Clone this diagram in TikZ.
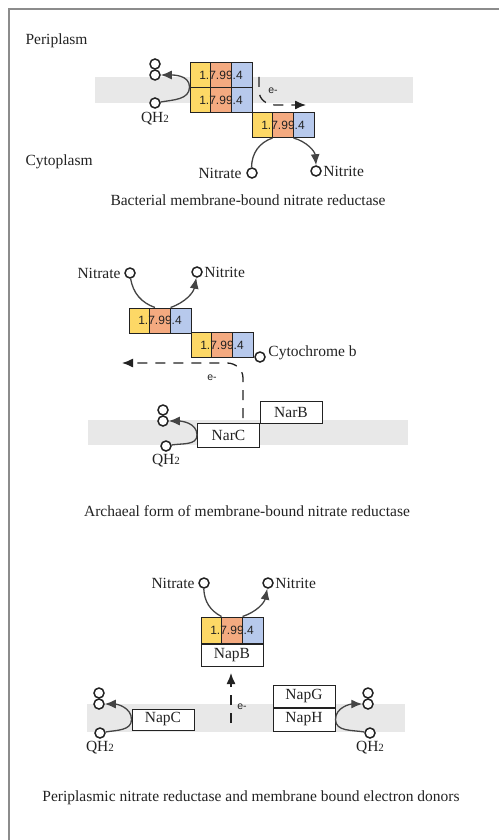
\documentclass[tikz,border=0pt]{standalone}
\usepackage{fontspec}
\setmainfont{Liberation Serif}
\newfontfamily\ecfamily{Liberation Sans}
\usetikzlibrary{calc,positioning,arrows.meta}
\definecolor{ink}{HTML}{222222}
\definecolor{curvegray}{HTML}{444444}
\definecolor{frameline}{HTML}{8C8C8C}
\definecolor{membrane}{HTML}{E8E8E8}
\definecolor{ecyel}{HTML}{FDD866}
\definecolor{ecorg}{HTML}{F4AA80}
\definecolor{ecblu}{HTML}{B7C9EC}
\newcommand{\Lbl}{\fontsize{15.5}{18}\selectfont}
\newcommand{\Ec}{\ecfamily\fontsize{12}{14}\selectfont}
\newcommand{\Esm}{\ecfamily\fontsize{10.5}{12}\selectfont}
\newcommand{\Qh}{QH{\fontsize{11}{12}\selectfont 2}}

\begin{document}
\begin{tikzpicture}[x=1pt,y=-1pt, font=\Lbl, text=ink,
    enz/.style={draw=ink, line width=1pt, minimum width=62pt, minimum height=25pt, inner sep=0pt, font=\Ec,
      path picture={
        \foreach \f/\c in {0/ecyel,1/ecorg,2/ecblu}
          \fill[\c] ($(path picture bounding box.south west)!\f/3!(path picture bounding box.south east)$) rectangle ($(path picture bounding box.north west)!\f/3+1/3!(path picture bounding box.north east)$);
        \foreach \f in {1,2}
          \draw[ink,line width=1pt] ($(path picture bounding box.south west)!\f/3!(path picture bounding box.south east)$) -- ($(path picture bounding box.north west)!\f/3!(path picture bounding box.north east)$);}},
    prot/.style={draw=ink, fill=white, line width=1pt, minimum width=62pt, inner sep=0pt},
    cpd/.style={circle, draw=ink, fill=white, line width=1.5pt, minimum size=10pt, inner sep=0pt},
    lbl/.style={inner sep=1.5pt},
    rxn/.style={draw=curvegray, line width=1.3pt},
    tip/.style={-{Latex[length=11pt,width=9pt]}},
    edash/.style={draw=ink, line width=1.3pt, dash pattern=on 10pt off 8pt, -{Latex[length=11pt,width=9pt]}}]
  \useasboundingbox (0,0) rectangle (499,840);
  \draw[frameline, line width=2pt] (8.5,840) -- (8.5,9.5) -- (499,9.5);

  % BACTERIAL FORM
  \node[anchor=west] (peri) at (22,41) {Periplasm};
  \node[anchor=west] (cyto) at (22,162) {Cytoplasm};
  \fill[membrane] (95,77) rectangle (413,103);
  \node[enz] (a1) at (221,75) {1.7.99.4};
  \node[enz] (a2) at (221,100) {1.7.99.4};
  \node[enz] (a3) at (283,125) {1.7.99.4};
  \node[cpd] (aq1) at (155,64) {};
  \node[cpd] (aq2) at (155,75) {};
  \node[cpd] (aqh) at (155,103) {};
  \node[lbl, below=2pt of aqh] (aqhl) {\Qh};
  \draw[rxn,tip] (aqh) to[out=10,in=-90] (a2.north west) to[out=90,in=0] (aq2);
  \coordinate (ae0) at (259,77);
  \coordinate (ae1) at (306,105);
  \draw[edash] (ae0) -- ++(0,14) to[out=-90,in=180] ++(16,14) -- (ae1);
  \node[font=\Esm] (ael) at (273,91) {e-};
  \node[cpd] (an) at (252,173) {};
  \node[lbl, left=3pt of an] (anl) {Nitrate};
  \node[cpd] (ai) at (316,171) {};
  \node[lbl, right=0pt of ai] (ail) {Nitrite};
  \draw[rxn] (an) to[bend left=35] ($(a3.south west)!1/3!(a3.south east)$);
  \draw[rxn,tip] ($(a3.south west)!2/3!(a3.south east)$) to[bend left=35] (ai);
  \node (capa) at (248,200) {Bacterial membrane-bound nitrate reductase};

  % ARCHAEAL FORM
  \fill[membrane] (88,420) rectangle (408,445);
  \node[enz] (b1) at (160,320.5) {1.7.99.4};
  \node[enz] (b2) at (222,345) {1.7.99.4};
  \node[cpd] (bn) at (130,273) {};
  \node[lbl, left=2pt of bn] (bnl) {Nitrate};
  \node[cpd] (bi) at (197,272) {};
  \node[lbl, right=0pt of bi] (bil) {Nitrite};
  \draw[rxn] (bn) to[bend right=30] ($(b1.north west)!0.42!(b1.north east)$);
  \draw[rxn,tip] ($(b1.north west)!2/3!(b1.north east)$) to[bend right=30] (bi);
  \node[cpd] (bc) at (260,357) {};
  \node[lbl, right=1pt of bc, yshift=4pt] (bcl) {Cytochrome b};
  \node[prot, minimum height=22pt] (narb) at (291,412) {NarB};
  \node[prot, minimum height=24pt] (narc) at (228.5,435) {NarC};
  \coordinate (be0) at (243,418);
  \coordinate (be1) at (122,363);
  \draw[edash] (be0) -- ++(0,-40) to[out=90,in=0] ++(-16,-15) -- (be1);
  \node[font=\Esm] (bel) at (212,378) {e-};
  \node[cpd] (bq1) at (163,410) {};
  \node[cpd] (bq2) at (163,421) {};
  \node[cpd] (bqh) at (166,446) {};
  \node[lbl, below=1pt of bqh] (bqhl) {\Qh};
  \draw[rxn,tip] (bqh) to[out=10,in=-90] (narc.west) to[out=90,in=0] (bq2);
  \node (capb) at (247,511) {Archaeal form of membrane-bound nitrate reductase};

  % PERIPLASMIC FORM
  \fill[membrane] (87,704) rectangle (405,732);
  \node[enz, minimum height=26pt] (c1) at (232,630) {1.7.99.4};
  \node[prot, minimum height=22pt, below=0pt of c1] (napb) {NapB};
  \node[cpd] (cn) at (204,583) {};
  \node[lbl, left=2pt of cn] (cnl) {Nitrate};
  \node[cpd] (ci) at (268,583) {};
  \node[lbl, right=0pt of ci] (cil) {Nitrite};
  \draw[rxn] (cn) to[bend right=30] ($(c1.north west)!1/3!(c1.north east)$);
  \draw[rxn,tip] ($(c1.north west)!2/3!(c1.north east)$) to[bend right=30] (ci);
  \node[prot, minimum height=21pt] (napc) at (163,719.5) {NapC};
  \node[prot, minimum height=22pt] (napg) at (304,696) {NapG};
  \node[prot, minimum height=23pt, below=0pt of napg] (naph) {NapH};
  \coordinate (ce0) at (231,723);
  \coordinate (ce1) at (231,673);
  \draw[edash] (ce0) -- (ce1);
  \node[font=\Esm] (cel) at (242,707) {e-};
  \node[cpd] (cq1) at (99,693) {};
  \node[cpd] (cq2) at (99,704) {};
  \node[cpd] (cqh) at (100,733) {};
  \node[lbl, below=1pt of cqh] (cqhl) {\Qh};
  \draw[rxn,tip] (cqh) to[out=10,in=-90] (napc.west) to[out=90,in=0] (cq2);
  \node[cpd] (dq1) at (368,693) {};
  \node[cpd] (dq2) at (368,704) {};
  \node[cpd] (dqh) at (370,733) {};
  \node[lbl, below=1pt of dqh] (dqhl) {\Qh};
  \draw[rxn,tip] (dqh) to[out=170,in=-90] (naph.east) to[out=90,in=180] (dq2);
  \node (capc) at (251,798) {Periplasmic nitrate reductase and membrane bound electron donors};
\end{tikzpicture}
\end{document}
